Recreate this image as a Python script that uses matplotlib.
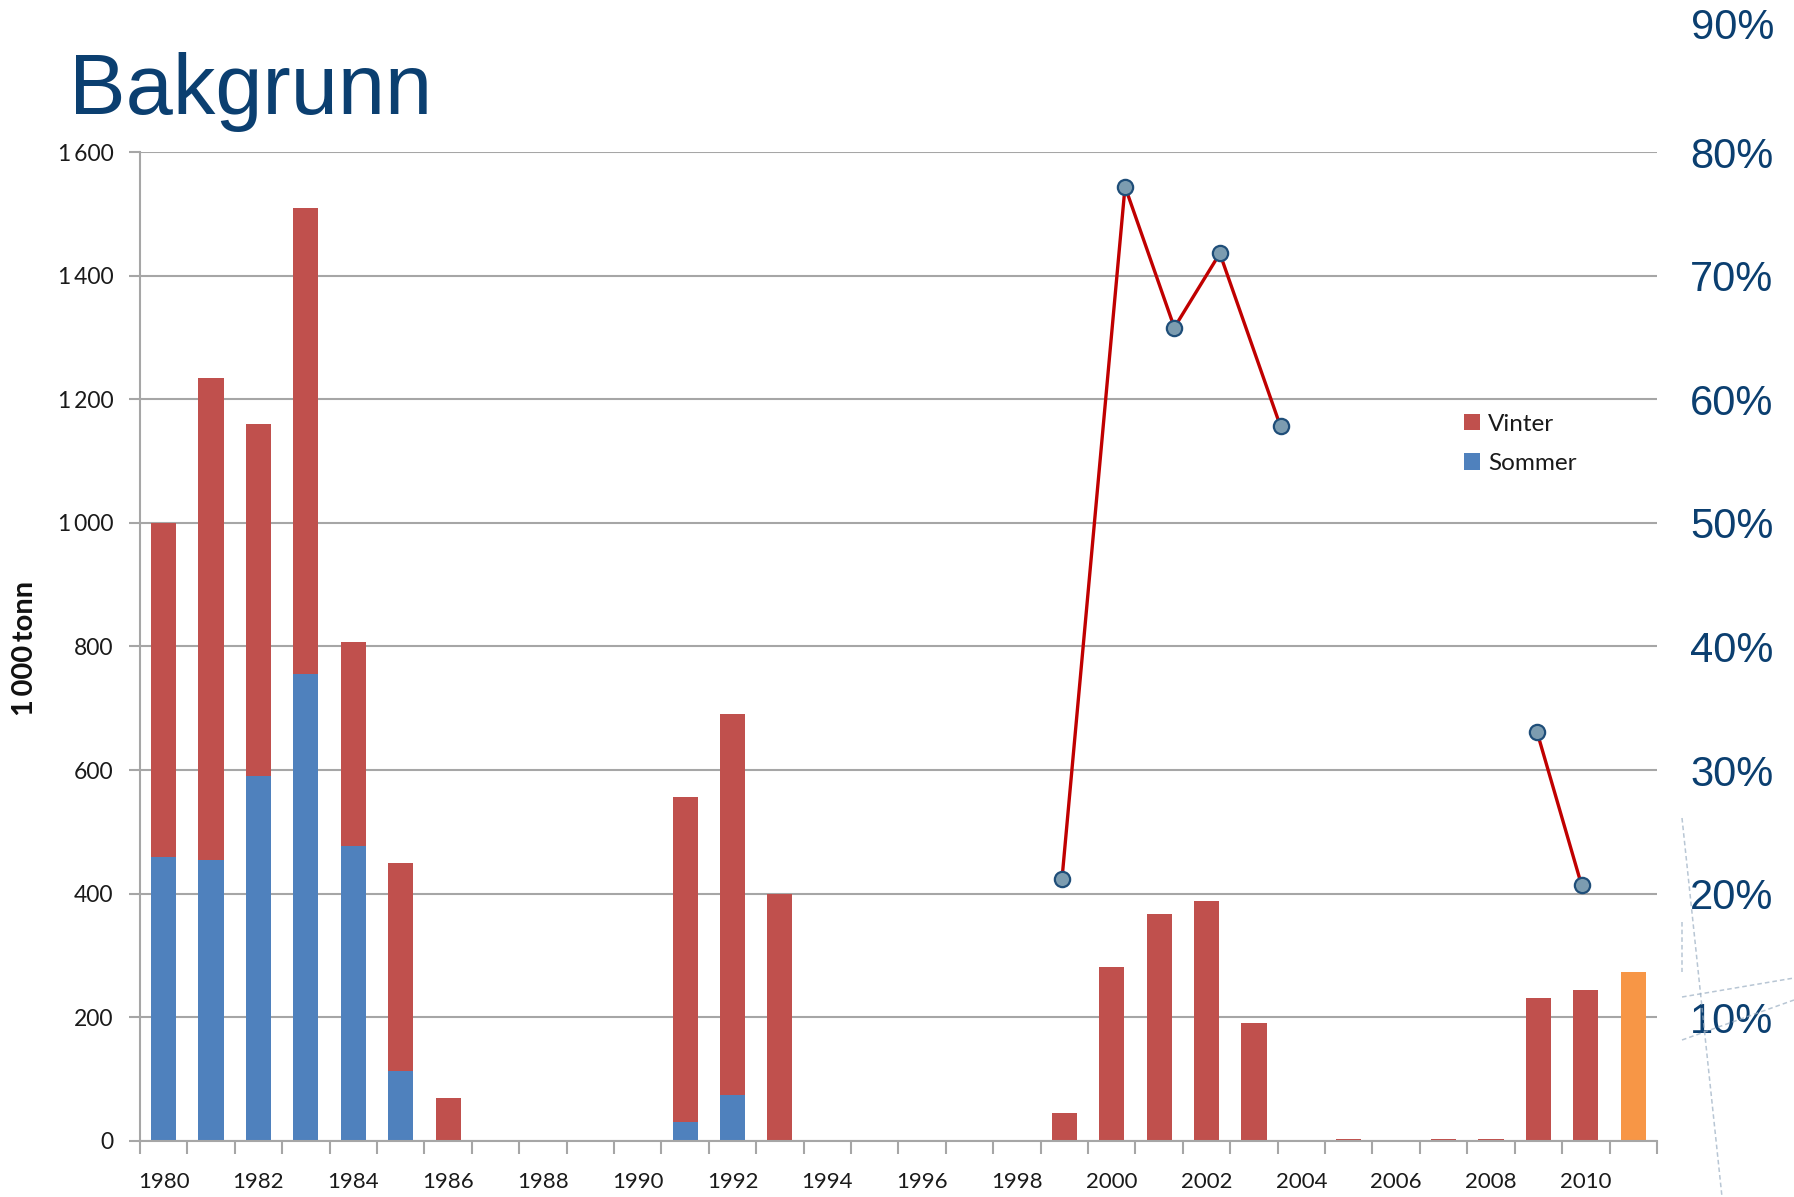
import numpy as np
import matplotlib
matplotlib.use('Agg')
import matplotlib.pyplot as plt
from matplotlib.patches import Patch
from matplotlib.lines import Line2D

# --- data (1000 tonn) ---
years = list(range(1980, 2012))
sommer = [460, 454, 591, 756, 478, 113, 0, 0, 0, 0, 0, 30, 74, 0, 0, 0,
          0, 0, 0, 0, 0, 0, 0, 0, 0, 0, 0, 0, 0, 0, 0, 0]
vinter = [540, 781, 569, 754, 329, 337, 70, 0, 0, 0, 0, 527, 617, 400, 0, 0,
          0, 0, 0, 46, 281, 367, 389, 191, 0, 4, 0, 4, 4, 231, 244, 0]
kvote_2011 = [0] * 31 + [274]

# share line (right axis, %), x positions
line_x = [1998.95, 2000.28, 2001.32, 2002.28, 2003.56, np.nan, 2008.97, 2009.91]
line_pct = [21.2, 77.2, 65.8, 71.8, 57.8, np.nan, 33.1, 20.7]

pct_ticks = [10, 20, 30, 40, 50, 60, 70, 80]
left_ticks = [0, 200, 400, 600, 800, 1000, 1200, 1400, 1600]

RED = '#c0504d'
BLUE = '#4f81bd'
ORANGE = '#f79646'
GRID = '#a6a6a6'
NAVY = '#0b3f70'

plt.rcParams['font.family'] = ['Lato', 'DejaVu Sans']

fig = plt.figure(figsize=(17.94, 11.97), dpi=100)
fig.patch.set_facecolor('white')
ax = fig.add_axes([0.078, 0.0468, 0.8456, 0.8262])

w = 0.53
ax.bar(years, sommer, width=w, color=BLUE, zorder=2)
ax.bar(years, vinter, width=w, bottom=sommer, color=RED, zorder=2)
ax.bar(years, kvote_2011, width=w, color=ORANGE, zorder=2)

ax.set_xlim(1979.5, 2011.5)
ax.set_ylim(0, 1600)
ax.set_yticks(left_ticks)
ax.set_yticklabels([f"{v:,}".replace(',', '\u2009') for v in left_ticks])
ax.yaxis.grid(True, color=GRID, linewidth=1.5, zorder=0)
ax.set_axisbelow(True)

# category boundary ticks, labels every second year
ax.set_xticks(np.arange(1979.5, 2012, 1.0))
ax.set_xticklabels([])
ax.set_xticks(years[::2], minor=True)
ax.set_xticklabels([str(y) for y in years[::2]], minor=True)
ax.tick_params(axis='x', which='major', length=9, width=1.5, color=GRID, direction='out')
ax.tick_params(axis='x', which='minor', length=0, pad=22, labelsize=16, labelcolor='#1a1a1a')
ax.tick_params(axis='y', length=8, width=1.5, color=GRID, pad=11, labelsize=16.5, labelcolor='#1a1a1a')

for s in ['top', 'right']:
    ax.spines[s].set_visible(False)
for s in ['left', 'bottom']:
    ax.spines[s].set_color(GRID)
    ax.spines[s].set_linewidth(1.5)

# y label as figure text so it sits exactly where the original has it
fig.text(25 / 1794, 1 - 648 / 1197, '1\u2009000\u2009tonn', fontsize=21, fontweight='bold',
         color='#111111', rotation=90, ha='center', va='center')

# right axis with share in percent
ax2 = ax.twinx()
ax2.set_ylim(0, 80)
ax2.plot(line_x, line_pct, color='#c00000', linewidth=2.4, marker='o', markersize=11,
         markerfacecolor='#7c9cb0', markeredgecolor='#1f4e79', markeredgewidth=1.6, zorder=5)
ax2.set_yticks(pct_ticks)
ax2.set_yticklabels([f"{p}%" for p in pct_ticks], family='Liberation Sans')
ax2.tick_params(axis='y', length=0, pad=24, labelsize=30, labelcolor=NAVY)
ax2.text(1.0 + 34 / 1517, 90, '90%', transform=ax2.get_yaxis_transform(), fontsize=30,
         color=NAVY, family='Liberation Sans', ha='left', va='center', clip_on=False)
for s in ax2.spines.values():
    s.set_visible(False)

# legend
handles = [Patch(facecolor=RED, edgecolor='none', label='Vinter'),
           Patch(facecolor=BLUE, edgecolor='none', label='Sommer')]
fig.legend(handles=handles, loc='center left', bbox_to_anchor=(1464 / 1794, 1 - 444 / 1197),
           frameon=False, fontsize=17.5, handlelength=0.65, handleheight=0.65,
           handletextpad=0.35, labelspacing=0.75, borderpad=0, borderaxespad=0,
           labelcolor='#1a1a1a')

# title
fig.text(69 / 1794, 1 - 114 / 1197, 'Bakgrunn', fontsize=61, color=NAVY,
         family='Liberation Sans', ha='left', va='baseline')

# faint decorative dashed strokes at bottom right
deco = [((1682, 818), (1722, 1197)),
        ((1682, 922), (1682, 972)),
        ((1682, 997), (1794, 978)),
        ((1682, 1040), (1794, 1000))]
for (x0, y0), (x1, y1) in deco:
    fig.add_artist(Line2D([x0 / 1794, x1 / 1794], [1 - y0 / 1197, 1 - y1 / 1197],
                          transform=fig.transFigure, color='#9aaec2', linewidth=1.1,
                          linestyle=(0, (3, 2)), alpha=0.7))

fig.savefig('out.png', dpi=100, facecolor='white')
plt.close(fig)
